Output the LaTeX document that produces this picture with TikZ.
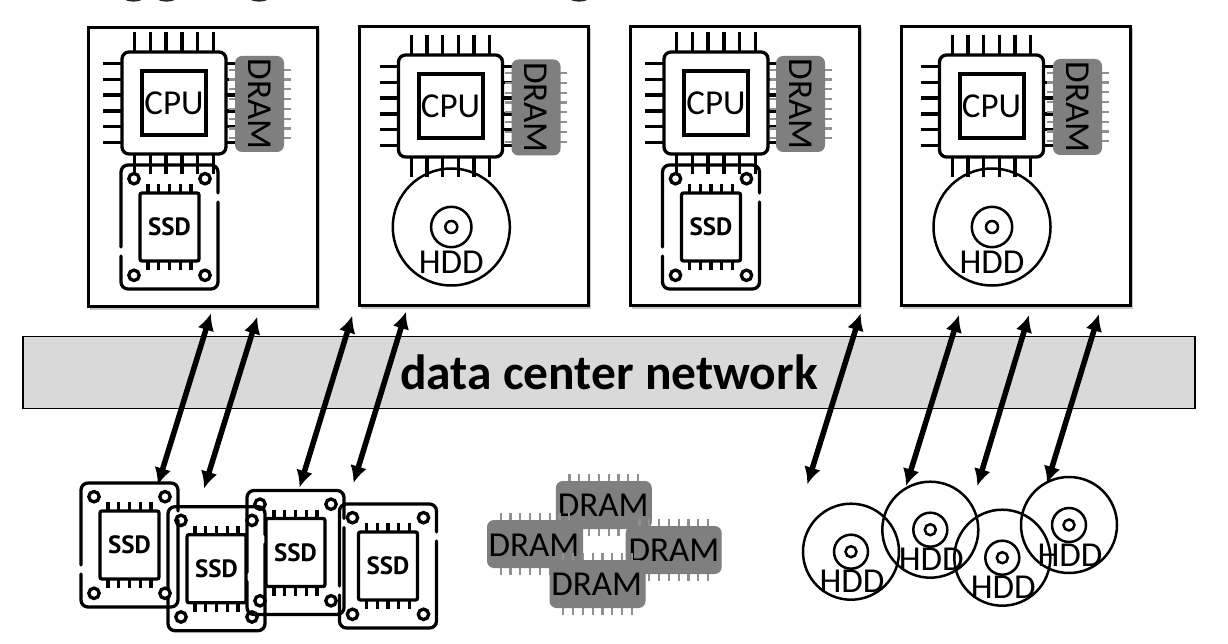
\documentclass[tikz,border=0pt]{standalone}
\usepackage{fontspec}
\setmainfont{Carlito}
\newfontfamily\ssdfont{PT Sans}
\usetikzlibrary{arrows.meta}
\definecolor{dramgray}{HTML}{7F7F7F}
\definecolor{pingray}{HTML}{909090}
\definecolor{bandgray}{HTML}{D9D9D9}
\tikzset{
  x=1pt,y=-1pt,
  icon/.style={draw=black,line width=3.3pt,fill=none},
  thinicon/.style={draw=black,line width=2.5pt,fill=none},
  serverbox/.style={draw=black,line width=2.5pt,fill=white,minimum width=229pt,minimum height=279pt,inner sep=0pt,outer sep=0pt},
  bigtext/.style={font=\fontsize{35}{35}\selectfont,inner sep=0pt,text=black},
  ssdtext/.style={font=\fontsize{25}{25}\selectfont\ssdfont\bfseries,inner sep=0pt},
  band/.style={draw=black,line width=1.2pt,fill=bandgray,minimum width=1172pt,minimum height=72pt,inner sep=0pt,
     font=\fontsize{49.5}{49.5}\selectfont\bfseries},
  link/.style={draw=black,line width=5.5pt,{Latex[length=17pt,width=17pt]}-{Latex[length=17pt,width=17pt]},shorten <=0pt,shorten >=0pt},
  cpuicon/.pic={
    \foreach \d in {-39.3,-23.6,-7.9,7.9,23.6,39.3}{
      \draw[icon,line cap=butt] (\d,-71)--(\d,-51);
      \draw[icon,line cap=butt] (\d,51)--(\d,71);
      \draw[icon,line cap=butt] (-71,\d)--(-51,\d);
      \draw[icon,line cap=butt] (51,\d)--(71,\d);
    }
    \draw[icon,fill=white,rounded corners=7pt] (-52,-51) rectangle (52,51);
    \draw[icon,line width=4pt] (-32,-32) rectangle (32,32);
    \node[bigtext] (-label) at (0,0) {CPU};
  },
  ssdicon/.pic={
    \draw[icon,line cap=round,rounded corners=7pt]
      (48.5,-34) -- (48.5,-62) -- (-48.5,-62) -- (-48.5,20);
    \draw[icon,line cap=round,rounded corners=7pt]
      (-48.5,29) -- (-48.5,62) -- (48.5,62) -- (48.5,-25);
    \foreach \sx in {-35.5,35.5}\foreach \sy in {-48.3,48.3}
      \draw[icon] (\sx,\sy) circle (5.2);
    \foreach \d in {-21.6,-10.8,0,10.8,21.6}{
      \draw[icon] (\d,-43)--(\d,-34);
      \draw[icon] (\d,34)--(\d,43);
    }
    \draw[icon,rounded corners=2pt] (-29.5,-34) rectangle (29.5,34);
    \node[ssdtext] (-label) at (0,0) {SSD};
  },
  hddlarge/.pic={
    \draw[thinicon] (0,0) circle (58.5);
    \draw[thinicon] (0,0) circle (20.2);
    \draw[thinicon] (0,0) circle (6);
    \node[bigtext] (-label) at (0,35) {HDD};
  },
  hddsmall/.pic={
    \draw[thinicon] (0,0) circle (48);
    \draw[thinicon] (0,0) circle (17);
    \draw[thinicon] (0,0) circle (5.5);
    \node[bigtext] (-label) at (1,30) {HDD};
  },
  dramh/.pic={
    \foreach \d in {-34.3,-24.5,-14.7,-4.9,4.9,14.7,24.5,34.3}{
      \draw[pingray,line width=2.2pt] (\d,-31)--(\d,31);
    }
    \fill[dramgray,rounded corners=7pt] (-48,-24) rectangle (48,24);
  },
  dramv/.pic={
    \foreach \d in {-34.3,-24.5,-14.7,-4.9,4.9,14.7,24.5,34.3}{
      \draw[pingray,line width=2.2pt] (-31,\d)--(31,\d);
    }
    \fill[dramgray,rounded corners=7pt] (-24.5,-48) rectangle (24.5,48);
    \node[bigtext,rotate=-90] (-label) at (0,0) {DRAM};
  },
}
\begin{document}
\begin{tikzpicture}
\useasboundingbox (0,0) rectangle (1228,644);
\clip (0,0) rectangle (1228,644);
\fill[white] (0,0) rectangle (1228,644);
% remnants of a cropped line at the top edge
\foreach \tx in {133.5,166.5,259,579}
  \fill[black!85] (\tx,-1) ellipse (8.5 and 2.6);

% servers
\foreach \n/\cx/\cy in {1/203/167,2/474/166,3/745/166,4/1016/166}{
  \fill[black!22] (\cx-113,\cy-138) rectangle (\cx+116.5,\cy+142.5);
  \node[serverbox] (srv\n) at (\cx,\cy) {};
}

% network band
\node[band] (net) at (609,372.7) {\raisebox{-4pt}{data center network}};

% server contents
\pic (cpu1) at (174,103) {cpuicon};
\pic (dramA) at (259.5,104) {dramv};
\pic (ssdA) at (169.5,227) {ssdicon};

\pic (cpu2) at (450.5,106) {cpuicon};
\pic (dramB) at (536,107.5) {dramv};
\pic (hddA) at (451.3,227) {hddlarge};

\pic (cpu3) at (716,103) {cpuicon};
\pic (dramC) at (800.5,104) {dramv};
\pic (ssdB) at (711,227) {ssdicon};

\pic (cpu4) at (991.5,106) {cpuicon};
\pic (dramD) at (1077.5,107) {dramv};
\pic (hddB) at (992,227) {hddlarge};

% pool of SSDs
\pic (pa) at (129.5,545) {ssdicon};
\pic (pb) at (216.5,568.7) {ssdicon};
\pic (pc) at (295.5,552.5) {ssdicon};
\pic (pd) at (388,566) {ssdicon};

% pool of DRAM
\pic (dt) at (603.8,505) {dramh};
\node[bigtext] (dtl) at (603.3,505.7) {DRAM};
\pic (dl) at (535,544) {dramh};
\node[bigtext] (dll) at (534,545) {DRAM};
\pic (dr) at (673.7,550) {dramh};
\node[bigtext] (drl) at (674,550.7) {DRAM};
\pic (db) at (597.5,584) {dramh};
\node[bigtext] (dbl) at (596.7,584) {DRAM};

% pool of HDDs
\pic (ha) at (851,551.7) {hddsmall};
\pic (hb) at (930.3,529.7) {hddsmall};
\pic (hc) at (1002.3,557.7) {hddsmall};
\pic (hd) at (1069,525) {hddsmall};

% links
\foreach \i/\tx/\ty/\bx/\by in {
  1/211/313.3/157.7/485,
  2/257.3/316.7/204/488.5,
  3/352.3/315.7/299.5/487.5,
  4/406/311.7/353.5/483,
  5/860.7/313.3/807.3/484.3,
  6/959/315/906/486,
  7/1029/315/977.3/486,
  8/1099/314/1047/483.5}{
  \coordinate (up\i) at (\tx,\ty);
  \coordinate (down\i) at (\bx,\by);
  \draw[link] (up\i) -- (down\i);
}
\end{tikzpicture}
\end{document}
